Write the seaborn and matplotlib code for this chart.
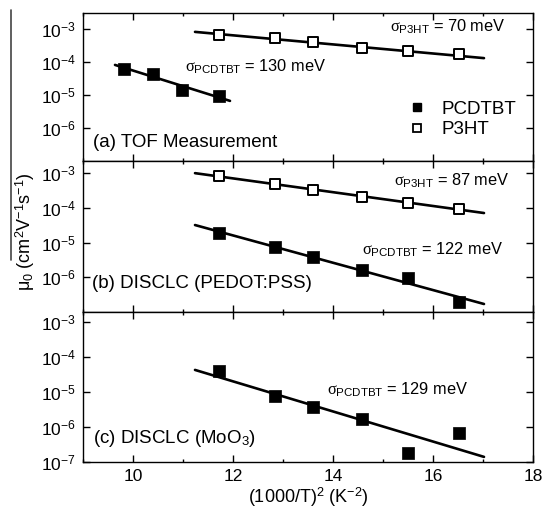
import numpy as np
import matplotlib
matplotlib.use("Agg")
import matplotlib.pyplot as plt
from matplotlib.lines import Line2D
from matplotlib.ticker import FixedLocator, LogLocator, FuncFormatter, MultipleLocator, NullFormatter
import seaborn as sns

# ---- data -------------------------------------------------------------
# (1000/T)^2 in K^-2
x_tof_pcdtbt = [9.82, 10.40, 10.98, 11.72]
x_common = [11.72, 12.84, 13.60, 14.58, 15.50, 16.52]

# zero-field mobility, cm^2 V^-1 s^-1
mu_tof_pcdtbt = [6.1e-5, 4.3e-5, 1.4e-5, 9.3e-6]
mu_tof_p3ht = [6.6e-4, 5.4e-4, 4.1e-4, 2.6e-4, 2.1e-4, 1.7e-4]
mu_pedot_p3ht = [8.1e-4, 4.8e-4, 3.2e-4, 2.0e-4, 1.4e-4, 9.1e-5]
mu_pedot_pcdtbt = [1.9e-5, 7.4e-6, 3.8e-6, 1.6e-6, 9.3e-7, 1.9e-7]
mu_moo3_pcdtbt = [4.0e-5, 7.8e-6, 3.7e-6, 1.7e-6, 1.8e-7, 6.8e-7]

# Gaussian disorder model fits (end points of each straight line)
fit_x_tof_pcdtbt = [9.64, 11.94]
fit_mu_tof_pcdtbt = [8.1e-5, 6.6e-6]
fit_x_long = [11.24, 17.02]
fit_mu_tof_p3ht = [8.1e-4, 1.3e-4]
fit_mu_pedot_p3ht = [1.0e-3, 7.1e-5]
fit_mu_pedot_pcdtbt = [3.2e-5, 1.7e-7]
fit_mu_moo3_pcdtbt = [4.3e-5, 1.4e-7]

panel_titles = ["(a) TOF Measurement",
                "(b) DISCLC (PEDOT:PSS)",
                "(c) DISCLC (MoO$_\\mathregular{3}$)"]
sigma_labels = [
    [("PCDTBT", 130), ("P3HT", 70)],
    [("P3HT", 87), ("PCDTBT", 122)],
    [("PCDTBT", 129)],
]
legend_labels = ["PCDTBT", "P3HT"]
x_ticks_major = [10, 12, 14, 16, 18]

# ---- style -----------------------------------------------------------
sns.set_theme(style="ticks")
plt.rcParams["font.family"] = ["Liberation Sans", "DejaVu Sans"]
plt.rcParams["mathtext.fontset"] = "custom"
plt.rcParams["mathtext.rm"] = "Liberation Sans"
plt.rcParams["mathtext.it"] = "Liberation Serif"
plt.rcParams["mathtext.bf"] = "Liberation Sans:bold"
plt.rcParams["axes.linewidth"] = 1.0
plt.rcParams["axes.edgecolor"] = "black"
plt.rcParams["text.color"] = "black"
plt.rcParams["axes.labelcolor"] = "black"
plt.rcParams["xtick.color"] = "black"
plt.rcParams["ytick.color"] = "black"
plt.rcParams["xtick.labelcolor"] = "black"
plt.rcParams["ytick.labelcolor"] = "black"

W, H = 543, 508
fig = plt.figure(figsize=(W / 100, H / 100), dpi=100)
fig.patch.set_facecolor("white")

left, right = 83, 533
bounds = [(13, 161), (161, 312), (312, 462)]
ytops = [10 ** -2.52, 10 ** -2.65, 10 ** -2.71]

axes = []
for (top, bot), ytop in zip(bounds, ytops):
    ax = fig.add_axes([left / W, 1 - bot / H, (right - left) / W, (bot - top) / H])
    ax.set_yscale("log")
    ax.set_xlim(9, 18)
    ax.set_ylim(1e-7, ytop)
    axes.append(ax)

FILLED = dict(marker="s", s=80, color="black", edgecolor="black", linewidth=0.5, zorder=3)
OPEN = dict(marker="s", s=52, facecolor="white", edgecolor="black", linewidth=1.4, zorder=3)
LINE = dict(color="black", linewidth=1.9, zorder=2)


def fit_line(ax, xs, ys):
    sns.lineplot(x=xs, y=ys, ax=ax, **LINE)


# (a) time-of-flight
ax = axes[0]
fit_line(ax, fit_x_tof_pcdtbt, fit_mu_tof_pcdtbt)
fit_line(ax, fit_x_long, fit_mu_tof_p3ht)
sns.scatterplot(x=x_tof_pcdtbt, y=mu_tof_pcdtbt, ax=ax, **FILLED)
sns.scatterplot(x=x_common, y=mu_tof_p3ht, ax=ax, **OPEN)

# (b) DISCLC, PEDOT:PSS contact
ax = axes[1]
fit_line(ax, fit_x_long, fit_mu_pedot_p3ht)
fit_line(ax, fit_x_long, fit_mu_pedot_pcdtbt)
sns.scatterplot(x=x_common, y=mu_pedot_p3ht, ax=ax, **OPEN)
sns.scatterplot(x=x_common, y=mu_pedot_pcdtbt, ax=ax, **FILLED)

# (c) DISCLC, MoO3 contact
ax = axes[2]
fit_line(ax, fit_x_long, fit_mu_moo3_pcdtbt)
sns.scatterplot(x=x_common, y=mu_moo3_pcdtbt, ax=ax, **FILLED)

# ---- annotations -----------------------------------------------------
sigma_pos = [
    [(11.04, 10 ** -4.30), (15.14, 10 ** -3.09)],
    [(15.22, 10 ** -3.37), (14.58, 10 ** -5.36)],
    [(13.88, 10 ** -5.06)],
]
title_pos = [(9.2, 10 ** -6.58), (9.18, 10 ** -6.31), (9.2, 10 ** -6.46)]

for ax, title, tpos, labels, positions in zip(axes, panel_titles, title_pos,
                                               sigma_labels, sigma_pos):
    ax.text(tpos[0], tpos[1], title, fontsize=13.5, va="baseline", ha="left")
    for (name, val), (px, py) in zip(labels, positions):
        ax.text(px, py, "$\\sigma_{\\mathregular{%s}}$ = %d meV" % (name, val),
                fontsize=11.8, va="baseline", ha="left")

# legend in panel (a)
handles = [
    Line2D([], [], linestyle="none", marker="s", markersize=6,
           markerfacecolor="black", markeredgecolor="black"),
    Line2D([], [], linestyle="none", marker="s", markersize=5.5,
           markerfacecolor="white", markeredgecolor="black", markeredgewidth=1.3),
]
axes[0].legend(handles, legend_labels, loc="center left",
               bbox_to_anchor=((408 - left) / (right - left), 1 - (119.5 - 13) / 148),
               frameon=False, fontsize=13.5, handlelength=1.0, handletextpad=0.8,
               labelspacing=0.2, borderpad=0, borderaxespad=0)

# ---- ticks -----------------------------------------------------------
fmt = FuncFormatter(lambda v, _: "$\\mathregular{10^{%d}}$" % int(round(np.log10(v))))
for i, ax in enumerate(axes):
    ax.xaxis.set_major_locator(FixedLocator(x_ticks_major))
    ax.xaxis.set_minor_locator(MultipleLocator(1))
    if i < 2:
        ax.set_yticks([1e-3, 1e-4, 1e-5, 1e-6])
    else:
        ax.set_yticks([1e-3, 1e-4, 1e-5, 1e-6, 1e-7])
    ax.yaxis.set_minor_locator(LogLocator(base=10, subs=np.arange(2, 10)))
    ax.yaxis.set_minor_formatter(NullFormatter())
    ax.yaxis.set_major_formatter(fmt)
    ax.tick_params(which="both", direction="in", top=True, right=True,
                   color="black", labelcolor="black", width=1.0)
    ax.tick_params(which="major", length=5, labelsize=12.5, pad=5)
    ax.tick_params(which="minor", length=2.5)
    if i < 2:
        ax.tick_params(axis="x", labelbottom=False)
    for sp in ax.spines.values():
        sp.set_visible(True)
        sp.set_color("black")

axes[2].set_xlabel("(1000/T)$^\\mathregular{2}$ (K$^\\mathregular{-2}$)", fontsize=13,
                   labelpad=1, color="black")
fig.text(25 / W, 1 - 232 / H,
         "\u03bc$_\\mathregular{0}$ (cm$^\\mathregular{2}$V$^\\mathregular{-1}$s$^\\mathregular{-1}$)",
         rotation=90, fontsize=13, ha="center", va="center", color="black")
fig.add_artist(Line2D([11 / W, 11 / W], [1 - 10 / H, 1 - 260 / H],
                      transform=fig.transFigure, color="#444444", linewidth=1.2))

fig.savefig("out.png", dpi=100, facecolor="white")
